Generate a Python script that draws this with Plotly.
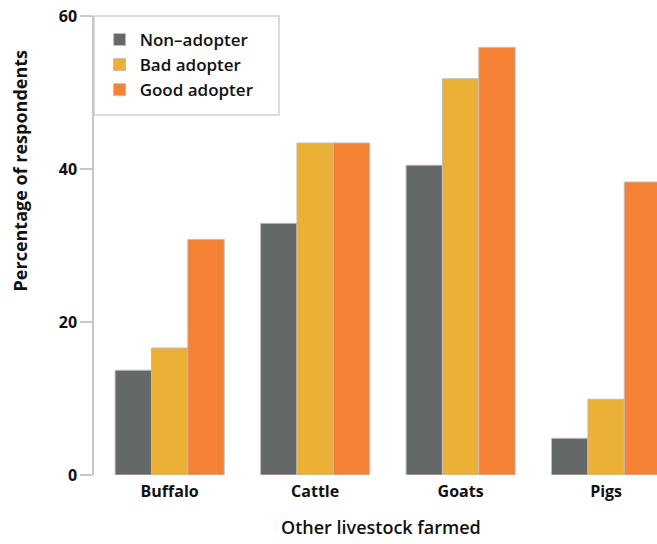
import plotly.graph_objects as go

categories = ["Buffalo", "Cattle", "Goats", "Pigs"]
non_adopter = [13.7, 32.9, 40.5, 4.8]
bad_adopter = [16.6, 43.4, 51.8, 9.9]
good_adopter = [30.8, 43.4, 55.9, 38.3]
series_names = ["Non\u2013adopter", "Bad adopter", "Good adopter"]
colors = ["#656868", "#EBB035", "#F48134"]
y_ticks = [0, 20, 40, 60]

FONT = "Open Sans"

fig = go.Figure()
for name, vals, col in zip(series_names, [non_adopter, bad_adopter, good_adopter], colors):
    fig.add_trace(go.Bar(
        x=categories, y=vals, name=name,
        marker=dict(color=col, line=dict(color="#BDBDBD", width=1)),
    ))

fig.update_layout(
    width=657, height=544,
    margin=dict(l=94, r=0, t=16, b=69),
    paper_bgcolor="white", plot_bgcolor="white",
    barmode="group", bargap=0.25, bargroupgap=0,
    font=dict(family=FONT, color="#111111"),
    showlegend=True,
    legend=dict(
        x=0.01, y=0.987, xanchor="left", yanchor="top",
        borderwidth=0, bgcolor="rgba(0,0,0,0)",
        font=dict(family=FONT, size=17, weight=600, color="#111111"),
        tracegroupgap=0,
    ),
    shapes=[
        dict(type="rect", xref="paper", yref="paper",
             x0=0, x1=(279 - 94) / 563, y0=1 - 99 / 459, y1=1,
             line=dict(color="#D0D0D0", width=1.5), fillcolor="white", layer="below"),
    ],
    xaxis=dict(
        range=[-0.52, 3.35],
        showline=False, showgrid=False, zeroline=False,
        ticks="", ticklabelstandoff=5,
        tickfont=dict(family=FONT, size=16, weight=700, color="#111111"),
        fixedrange=True,
    ),
    yaxis=dict(
        range=[0, 60], tickvals=y_ticks,
        showline=True, linecolor="#C8C8C8", linewidth=1.5,
        showgrid=False, zeroline=False,
        ticks="outside", ticklen=12, tickcolor="#C8C8C8", tickwidth=1.5,
        tickfont=dict(family=FONT, size=16, weight=700, color="#111111"),
    ),
    annotations=[
        dict(text="Percentage of respondents", textangle=-90,
             xref="paper", yref="paper", x=-0.131, y=0.664,
             xanchor="center", yanchor="middle", showarrow=False,
             font=dict(family=FONT, size=18, weight=700, color="#111111")),
        dict(text="Other livestock farmed",
             xref="paper", yref="paper", x=0.51, y=-0.113,
             xanchor="center", yanchor="middle", showarrow=False,
             font=dict(family=FONT, size=18, weight=650, color="#111111")),
    ],
)

fig.write_html("out.html", config={"displayModeBar": False},
               post_script="document.body.style.margin='0px';")
